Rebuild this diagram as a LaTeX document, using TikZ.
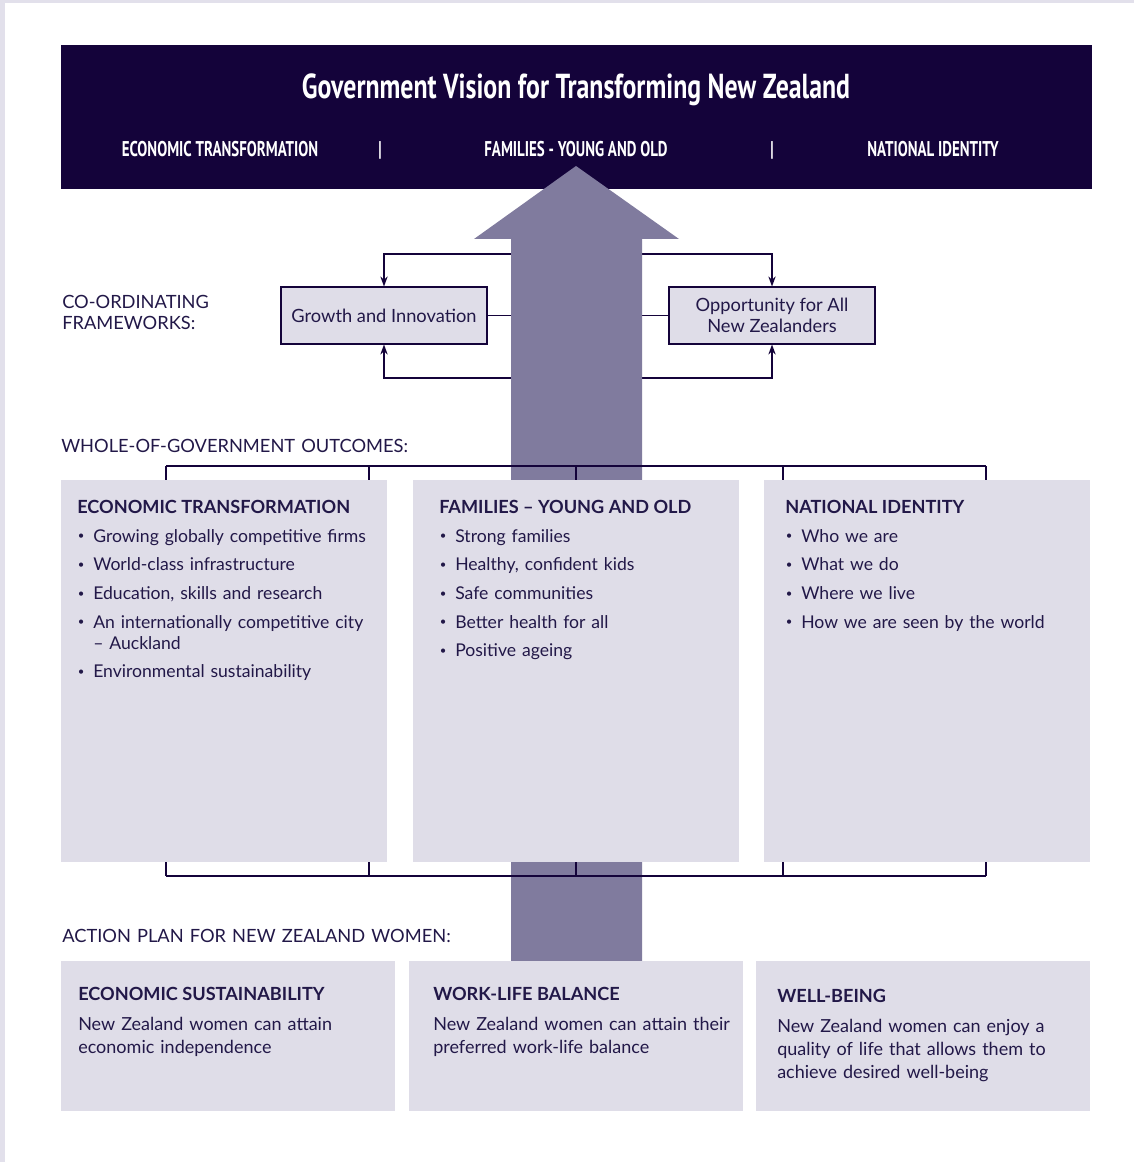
\documentclass[tikz,border=0pt]{standalone}
\usepackage{fontspec}
\setmainfont{Lato}
\newfontfamily\dinfont[FakeStretch=0.745]{PT Sans}
\newfontfamily\dinsub[FakeStretch=0.7]{PT Sans}
\usepackage{xcolor}
\usepackage{tikz}
\usetikzlibrary{arrows.meta,positioning,fit}

\definecolor{navy}{HTML}{14033A}
\definecolor{inkblue}{HTML}{221848}
\definecolor{shaftgray}{HTML}{807B9E}
\definecolor{boxgray}{HTML}{DFDDE8}
\definecolor{edgegray}{HTML}{E2E0EB}

\newcommand{\bul}{\makebox[12pt][l]{\hspace{0.5pt}\raisebox{0.25ex}{\fontsize{8.5}{8.5}\selectfont\textbullet}}}
\newcommand{\contind}{\hspace*{12pt}}

\begin{document}
\begin{tikzpicture}[
    x=0.75pt, y=-0.75pt,
    text=inkblue,
    bigtitle/.style={anchor=base, inner sep=0pt, text=white, font=\dinfont\bfseries\fontsize{26}{26}\selectfont},
    headtxt/.style={anchor=base, inner sep=0pt, text=white, font=\dinsub\bfseries\fontsize{16}{16}\selectfont},
    frame/.style={rectangle, draw=navy, line width=0.8pt, fill=boxgray, minimum width=154.5pt, minimum height=42.75pt, align=center, font=\fontsize{13.7}{16}\selectfont},
    outbox/.style={rectangle, fill=boxgray, draw=none, inner sep=0pt},
    sectlabel/.style={anchor=base west, inner sep=0pt, text width=330pt, align=left, font=\fontsize{13.7}{15.75}\selectfont},
    boxhead/.style={anchor=base west, inner sep=0pt, font=\bfseries\fontsize{13.6}{15}\selectfont},
    boxlist/.style={anchor=base west, inner sep=0pt, text width=235pt, align=left, font=\fontsize{13.2}{15.75}\selectfont},
    boxbody/.style={anchor=base west, inner sep=0pt, text width=240pt, align=left, font=\fontsize{13.5}{17.25}\selectfont},
    link/.style={draw=navy, line width=1.1pt},
    arrow/.style={link, -{Stealth[length=7.5pt,width=5.5pt]}},
]
\useasboundingbox (0,0) rectangle (1134,1162);
\fill[white] (0,0) rectangle (1134,1162);
\fill[edgegray] (0,0) rectangle (5,1162);
\fill[edgegray] (0,0) rectangle (1134,3);

% Vision band
\node[fill=navy, inner sep=0pt, fit={(61,45) (1092,189)}] (band) {};
\node[bigtitle] (vision) at (576,99) {Government Vision for Transforming New Zealand};
\node[headtxt] (bandecon) at (220,157) {ECONOMIC TRANSFORMATION};
\node[headtxt] (sepa) at (380,157) {|};
\node[headtxt] (bandfam) at (576,157) {FAMILIES - YOUNG AND OLD};
\node[headtxt] (sepb) at (772,157) {|};
\node[headtxt] (bandnat) at (933,157) {NATIONAL IDENTITY};

% Co-ordinating frameworks
\node[sectlabel] (coord) at (62,308) {CO-ORDINATING\\FRAMEWORKS:};
\node[frame] (growth) at (384,315.5) {Growth and Innovation};
\node[frame] (opport) at (772,315.5) {Opportunity for All\\New Zealanders};
\coordinate (ftop) at (576,254);
\coordinate (fbot) at (576,378);
\draw[arrow] (ftop) -| (growth.north);
\draw[arrow] (ftop) -| (opport.north);
\draw[arrow] (fbot) -| (growth.south);
\draw[arrow] (fbot) -| (opport.south);
\draw[link] (growth.east) -- (opport.west);

% Big arrow up through the middle
\fill[shaftgray] (511,961) -- (511,239) -- (474,239) -- (576,166)
    -- (679,239) -- (642,239) -- (642,961) -- cycle;

% Whole-of-government outcomes
\node[sectlabel] (wog) at (61,452) {WHOLE-OF-GOVERNMENT OUTCOMES:};
\draw[link] (166,466) -- (986,466);
\draw[link] (166,876) -- (986,876);
\foreach \x in {166,369,576,783,986} {
    \draw[link] (\x,466) -- (\x,480);
    \draw[link] (\x,862) -- (\x,876);
}
\node[outbox, fit={(61,480) (387,862)}] (econ) {};
\node[outbox, fit={(413,480) (739,862)}] (fam) {};
\node[outbox, fit={(764,480) (1090,862)}] (nat) {};

\node[boxhead] (econhead) at (77,513) {ECONOMIC TRANSFORMATION};
\node[boxlist] (econlist) at (77,542) {\bul Growing globally competitive firms\\[5.75pt]
    \bul World-class infrastructure\\[5.75pt]
    \bul Education, skills and research\\[5.75pt]
    \bul An internationally competitive city\\
    \contind -- Auckland\\[5.75pt]
    \bul Environmental sustainability};

\node[boxhead] (famhead) at (439,513) {FAMILIES -- YOUNG AND OLD};
\node[boxlist] (famlist) at (439,542) {\bul Strong families\\[5.75pt]
    \bul Healthy, confident kids\\[5.75pt]
    \bul Safe communities\\[5.75pt]
    \bul Better health for all\\[5.75pt]
    \bul Positive ageing};

\node[boxhead] (nathead) at (785,513) {NATIONAL IDENTITY};
\node[boxlist] (natlist) at (785,542) {\bul Who we are\\[5.75pt]
    \bul What we do\\[5.75pt]
    \bul Where we live\\[5.75pt]
    \bul How we are seen by the world};

% Action plan
\node[sectlabel] (action) at (62,942) {ACTION PLAN FOR NEW ZEALAND WOMEN:};
\node[outbox, fit={(61,961) (395,1111)}] (ecsus) {};
\node[outbox, fit={(409,961) (743,1111)}] (wlb) {};
\node[outbox, fit={(756,961) (1090,1111)}] (wellb) {};

\node[boxhead] (ecsushead) at (78,1000) {ECONOMIC SUSTAINABILITY};
\node[boxbody] (ecsustxt) at (78,1030) {New Zealand women can attain\\economic independence};
\node[boxhead] (wlbhead) at (433,1000) {WORK-LIFE BALANCE};
\node[boxbody] (wlbtxt) at (433,1030) {New Zealand women can attain their\\preferred work-life balance};
\node[boxhead] (wellbhead) at (777,1002) {WELL-BEING};
\node[boxbody] (wellbtxt) at (777,1032) {New Zealand women can enjoy a\\quality of life that allows them to\\achieve desired well-being};
\end{tikzpicture}
\end{document}
